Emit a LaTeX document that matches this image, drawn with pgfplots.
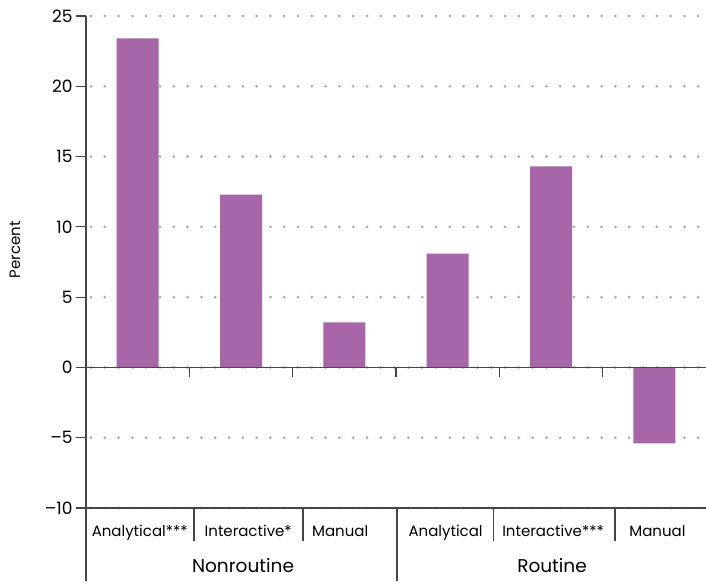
\documentclass[border=0pt]{standalone}
\usepackage{pgfplots}
\pgfplotsset{compat=1.18}
\usepackage{fontspec}
\setmainfont{Poppins}
\definecolor{barc}{RGB}{166,102,168}
\definecolor{axc}{RGB}{70,70,70}
\definecolor{gridc}{RGB}{170,170,170}
\begin{document}
\begin{tikzpicture}[x=1pt,y=1pt]
\begin{axis}[
  anchor=south west, at={(0pt,0pt)},
  scale only axis, width=620pt, height=492pt,
  xmin=0, xmax=6, ymin=-10, ymax=25,
  axis line style={draw=none},
  xtick=\empty,
  ytick={-10,-5,0,5,10,15,20,25},
  yticklabels={–10,–5,0,5,10,15,20,25},
  yticklabel style={font=\fontsize{17}{17}\selectfont, text=black},
  tick style={axc, line width=1.2pt},
  major tick length=10pt,
  tick align=outside,
  ytick pos=left,
  ymajorgrids,
  grid style={gridc, line width=3pt, line cap=round, dash pattern=on 0pt off 13.8pt, dash phase=-5pt},
  /pgf/number format/assume math mode=true,
  clip=false,
  ybar, bar width=42pt,
]
\addplot[fill=barc, draw=none] coordinates {(0.5,23.4) (1.5,12.3) (2.5,3.2) (3.5,8.1) (4.5,14.3) (5.5,-5.4)};
% axis lines
\draw[axc, line width=1.2pt] (axis cs:0,0) -- (axis cs:6,0);
\draw[axc, line width=1.2pt] (axis cs:0,-10) -- (axis cs:6,-10);
\draw[axc, line width=1.2pt] (axis cs:0,25) -- ([yshift=-73pt]axis cs:0,-10);
\draw[axc, line width=1.2pt] (axis cs:3.01,-10) -- ([yshift=-73pt]axis cs:3.01,-10);
\pgfplotsinvokeforeach{1,2,3,4,5}{\draw[axc, line width=1.2pt] (axis cs:#1,0) -- ([yshift=-10pt]axis cs:#1,0);}
\pgfplotsinvokeforeach{1.045,2.10,3.94,5.12}{\draw[axc, line width=1.2pt] (axis cs:#1,-10) -- ([yshift=-33pt]axis cs:#1,-10);}
% category labels
\begin{scope}[every node/.style={font=\fontsize{15}{15}\selectfont, inner sep=0pt, anchor=base}]
\node at ([yshift=-28pt]axis cs:0.52,-10) {Analytical***};
\node at ([yshift=-28pt]axis cs:1.57,-10) {Interactive*};
\node at ([yshift=-28pt]axis cs:2.46,-10) {Manual};
\node at ([yshift=-28pt]axis cs:3.48,-10) {Analytical};
\node at ([yshift=-28pt]axis cs:4.52,-10) {Interactive***};
\node at ([yshift=-28pt]axis cs:5.53,-10) {Manual};
\end{scope}
\begin{scope}[every node/.style={font=\fontsize{18.5}{18.5}\selectfont, inner sep=0pt, anchor=base}]
\node at ([yshift=-64pt]axis cs:1.52,-10) {Nonroutine};
\node at ([yshift=-64pt]axis cs:4.51,-10) {Routine};
\end{scope}
\node[rotate=90, font=\fontsize{15}{15}\selectfont, inner sep=0pt] at ([xshift=-71pt,yshift=258pt]axis cs:0,-10) {Percent};
\end{axis}
\pgfresetboundingbox
\path (-86pt,-73pt) rectangle (620pt,508pt);
\end{tikzpicture}
\end{document}
